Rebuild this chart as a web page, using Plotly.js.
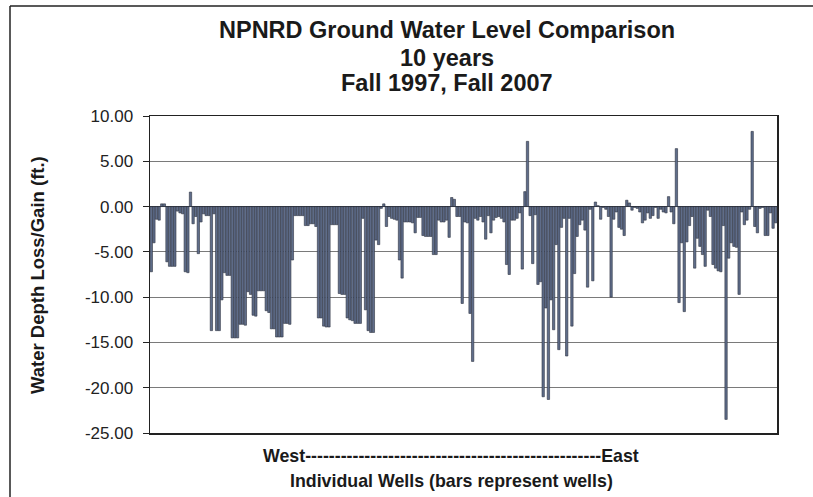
<!DOCTYPE html>
<html>
<head>
<meta charset="utf-8">
<script src="https://cdn.plot.ly/plotly-3.0.1.min.js"></script>
<style>html,body{margin:0;padding:0;background:#fff;}#chart{width:813px;height:497px;}</style>
</head>
<body>
<div id="chart"></div>
<script>
// Water depth change (ft.) per well, ordered West -> East
const depthChange = [
  -7.2, -4.0, -1.4, -1.5, 0.3, 0.3, -6.1, -6.6, -6.6, -6.6,
  -0.5, -0.7, -0.8, -7.2, -7.3, 1.6, -1.9, -1.1, -5.2, -1.7,
  -0.8, -1.0, -1.0, -13.7, -0.8, -13.7, -13.7, -10.3, -7.3, -7.6,
  -7.6, -14.5, -14.5, -14.5, -13.0, -13.0, -13.1, -9.4, -9.7, -12.0,
  -12.1, -9.3, -9.3, -9.3, -11.5, -11.7, -13.5, -13.5, -14.4, -14.4,
  -14.4, -12.9, -12.9, -13.0, -5.9, -1.0, -1.0, -1.0, -1.0, -2.1,
  -2.1, -1.9, -1.9, -2.2, -12.3, -12.3, -13.2, -13.3, -13.3, -2.0,
  -2.0, -2.0, -9.6, -9.7, -9.7, -12.3, -12.5, -12.6, -12.9, -12.9,
  -12.9, -1.3, -11.4, -13.7, -13.9, -13.9, -3.7, -4.2, -0.2, 0.3,
  -2.2, -1.1, -1.3, -1.4, -1.5, -5.9, -7.9, -1.7, -1.7, -1.7,
  -1.8, -2.9, -1.2, -1.2, -3.2, -3.3, -3.3, -3.3, -5.3, -5.3,
  -1.5, -1.7, -1.7, -1.5, -3.4, 1.0, 0.8, -1.1, -1.1, -10.7,
  -1.7, -1.8, -11.8, -17.1, -1.3, -1.5, -1.1, -1.7, -3.6, -1.0,
  -2.9, -1.5, -1.2, -1.1, -1.3, -1.7, -6.4, -7.5, -1.5, -1.5,
  -1.3, -0.7, -6.9, 1.65, 7.2, -1.0, -6.3, -0.9, -8.6, -8.3,
  -21.0, -11.2, -21.3, -10.3, -13.6, -4.2, -15.8, -2.3, -1.3, -16.5,
  -1.3, -13.2, -7.4, -3.3, -2.0, -1.5, -2.6, -8.9, -0.3, -8.2,
  0.5, 0.1, -1.4, -0.1, -0.3, -1.1, -10.0, -1.4, -0.6, -2.3,
  -2.5, -3.2, 0.7, 0.4, -0.4, -0.1, -0.2, -0.6, -1.8, -1.5,
  -0.7, -1.3, -1.0, -0.1, -1.3, -0.3, -0.6, -0.7, 1.1, -0.6,
  -1.9, 6.4, -10.6, -4.0, -11.6, -3.9, -2.1, -1.1, -6.8, -3.5,
  -4.4, -5.3, -6.6, -0.4, -1.1, -6.4, -6.8, -7.1, -7.2, -2.1,
  -23.5, -5.7, -4.0, -4.4, -4.5, -9.7, -0.6, -2.0, -1.5, -0.3,
  8.3, -2.2, -2.9, -0.2, -0.1, -3.2, -3.2, -0.7, -2.4, -1.8
];
// Well index (categories)
const wells = depthChange.map((_, i) => i + 1);
const yTickVals = [10, 5, 0, -5, -10, -15, -20, -25];
const yTickLabels = ['10.00', '5.00', '0.00', '-5.00', '-10.00', '-15.00', '-20.00', '-25.00'];
const titleLines = ['NPNRD Ground Water Level Comparison', '10 years', 'Fall 1997, Fall 2007'];
const xTitleLines = ['West' + '-'.repeat(50) + 'East', 'Individual Wells (bars represent wells)'];
const yTitle = 'Water Depth Loss/Gain (ft.)';

const FONT = 'Liberation Sans, Arial, Helvetica, sans-serif';
// pixel -> paper helpers (plot area 150..777 x 116..433)
const L = 150, R = 36, T = 116, B = 64, W = 813, H = 497;
const PW = W - L - R, PH = H - T - B;
const px = v => (v - L) / PW;
const py = v => (H - B - v) / PH;

const trace = {
  type: 'bar',
  x: wells,
  y: depthChange,
  marker: { color: '#5f6d8a', line: { color: '#2e3240', width: 0.6 } },
  hoverinfo: 'x+y'
};

const titleY = [30, 58, 83];
const annotations = [];
titleLines.forEach((t, i) => annotations.push({
  text: t, xref: 'paper', yref: 'paper', x: px(447), y: py(titleY[i]),
  xanchor: 'center', yanchor: 'middle', showarrow: false,
  font: { family: FONT, size: 23.5, weight: 'bold', color: '#1a1a1a' }
}));
const xTitleY = [456, 481];
xTitleLines.forEach((t, i) => annotations.push({
  text: t, xref: 'paper', yref: 'paper', x: px(451), y: py(xTitleY[i]),
  xanchor: 'center', yanchor: 'middle', showarrow: false,
  font: { family: FONT, size: 17.8, weight: 'bold', color: '#1a1a1a' }
}));
annotations.push({
  text: yTitle, xref: 'paper', yref: 'paper', x: px(37), y: py(275),
  xanchor: 'center', yanchor: 'middle', showarrow: false, textangle: -90,
  font: { family: FONT, size: 18.5, weight: 'bold', color: '#1a1a1a' }
});

const layout = {
  width: W, height: H,
  margin: { l: L, r: R, t: T, b: B, pad: 0 },
  paper_bgcolor: '#ffffff', plot_bgcolor: '#ffffff',
  showlegend: false,
  bargap: 0.1,
  xaxis: {
    range: [0.5, depthChange.length + 0.5],
    showticklabels: false, ticks: '', showgrid: false, zeroline: false,
    showline: true, mirror: true, linecolor: '#222', linewidth: 1.5, fixedrange: true
  },
  yaxis: {
    range: [-25, 10],
    tickmode: 'array', tickvals: yTickVals, ticktext: yTickLabels,
    ticks: 'outside', ticklen: 6, tickcolor: '#222', tickwidth: 1,
    ticklabelstandoff: 6,
    tickfont: { family: FONT, size: 17, color: '#222' },
    showgrid: true, gridcolor: '#7a7a7a', gridwidth: 1,
    zeroline: true, zerolinecolor: '#222', zerolinewidth: 1,
    showline: true, mirror: true, linecolor: '#222', linewidth: 1.5, fixedrange: true
  },
  annotations: annotations,
  shapes: [
    { type: 'line', xref: 'paper', yref: 'paper', x0: px(10), x1: px(10), y0: py(6), y1: py(497), line: { color: '#222', width: 1.5 } },
    { type: 'line', xref: 'paper', yref: 'paper', x0: px(10), x1: px(813), y0: py(6), y1: py(6), line: { color: '#222', width: 1.5 } }
  ]
};

Plotly.newPlot('chart', [trace], layout, { staticPlot: true, displayModeBar: false });
</script>
</body>
</html>
